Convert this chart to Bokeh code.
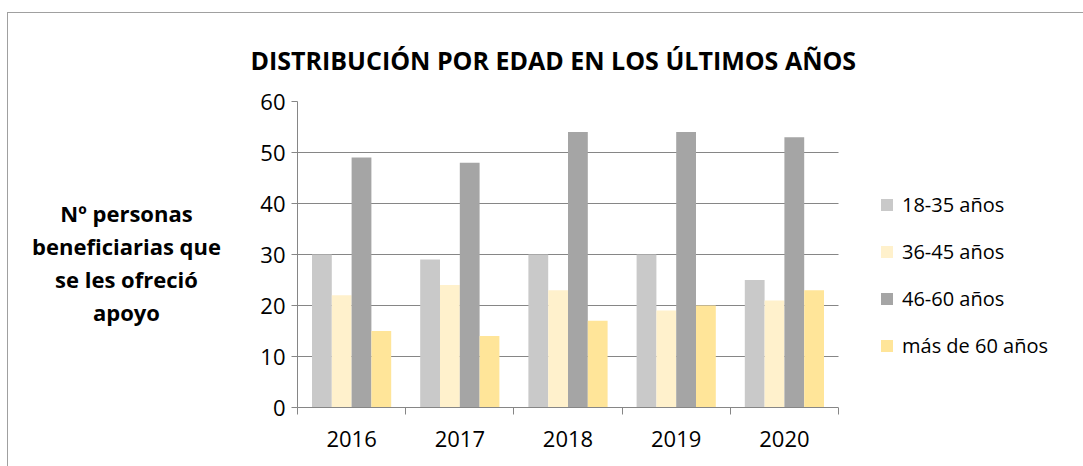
from bokeh.plotting import figure
from bokeh.layouts import row
from bokeh.models import (ColumnDataSource, Range1d, FixedTicker, Legend, LegendItem, Title,
                          BoxAnnotation)
from bokeh.core.properties import value
from bokeh.embed import file_html
from bokeh.resources import INLINE

years = ["2016", "2017", "2018", "2019", "2020"]
series = ["18-35 años", "36-45 años", "46-60 años", "más de 60 años"]
v_18_35 = [30, 29, 30, 30, 25]
v_36_45 = [22, 24, 23, 19, 21]
v_46_60 = [49, 48, 54, 54, 53]
v_60_plus = [15, 14, 17, 20, 23]
colors = ["#C9C9C9", "#FFF1CC", "#A5A5A5", "#FFE599"]
title_text = "DISTRIBUCIÓN POR EDAD EN LOS ÚLTIMOS AÑOS"
ylabel_text = "Nº personas\nbeneficiarias que\nse les ofreció\napoyo"

FONT = "Open Sans"
OX, OY = 8, 13     # offset of the content inside the outer chart border
H = 466 - OY
LW = 230 - OX      # width of the y-label panel
MW = 1083 - 230    # width of the main chart
FL = 67            # left border of main chart (frame starts at page x 297)
FRAME_W = MW - FL
PLOT_W = 541       # pixel width of the category area
n = len(years)
x_end = n * FRAME_W / PLOT_W

# ---- y-axis title panel
lab = figure(width=LW, height=H, output_backend="svg", toolbar_location=None,
             x_range=Range1d(0, LW), y_range=Range1d(H, 0),
             min_border=0)
lab.axis.visible = False
lab.grid.visible = False
lab.outline_line_color = None
lab.text(x=[126 - OX], y=[251 - OY], text=[ylabel_text], text_align="center",
         text_baseline="middle", text_font=value(FONT), text_font_size="22px",
         text_font_style="bold", text_color="#000000", text_line_height=1.1)

# ---- main chart
p = figure(width=MW, height=H, output_backend="svg", toolbar_location=None,
           x_range=Range1d(0, x_end), y_range=Range1d(0, 60),
           min_border_left=FL, min_border_right=0, min_border_top=101 - OY,
           min_border_bottom=59)
p.outline_line_color = None
p.background_fill_color = "white"
p.border_fill_color = "white"

bw = 0.183
offsets = [-1.5 * bw, -0.5 * bw, 0.5 * bw, 1.5 * bw]
items = []
for vals, col, off, name in zip([v_18_35, v_36_45, v_46_60, v_60_plus], colors, offsets, series):
    xs = [i + 0.5 + off for i in range(n)]
    src = ColumnDataSource(dict(x=xs, top=vals))
    r = p.vbar(x="x", top="top", width=bw, bottom=0, source=src, fill_color=col,
               line_color=None)
    items.append(LegendItem(label=name, renderers=[r]))

p.xaxis.bounds = (0, n)
p.xaxis.ticker = FixedTicker(ticks=[i + 0.5 for i in range(n)],
                             minor_ticks=list(range(n + 1)))
p.xaxis.major_label_overrides = {i + 0.5: y for i, y in enumerate(years)}
p.xaxis.major_tick_line_color = None
p.xaxis.minor_tick_out = 7
p.xaxis.minor_tick_in = 0
p.xaxis.minor_tick_line_color = "#868686"
p.xaxis.axis_line_color = "#868686"
p.xaxis.major_label_text_font = FONT
p.xaxis.major_label_text_font_size = "22px"
p.xaxis.major_label_text_color = "#000000"
p.xaxis.major_label_standoff = 16

p.yaxis.ticker = FixedTicker(ticks=list(range(0, 61, 10)))
p.yaxis.major_tick_out = 6
p.yaxis.major_tick_in = 0
p.yaxis.major_tick_line_color = "#868686"
p.yaxis.minor_tick_line_color = None
p.yaxis.axis_line_color = "#868686"
p.yaxis.major_label_text_font = FONT
p.yaxis.major_label_text_font_size = "22px"
p.yaxis.major_label_text_color = "#000000"
p.yaxis.major_label_standoff = 6

p.xgrid.grid_line_color = None
p.ygrid.grid_line_color = "#868686"
p.ygrid.grid_line_width = 1

# blank out the grid to the right of the category area (legend area)
p.add_layout(BoxAnnotation(left=n, fill_color="white", fill_alpha=1.0,
                           line_color=None))

legend = Legend(items=items, location=(582, 48), orientation="vertical",
                glyph_width=15, glyph_height=15, label_height=27, spacing=20,
                label_standoff=8, padding=0, margin=0,
                label_text_font=FONT, label_text_font_size="20px",
                label_text_color="#000000", border_line_color=None,
                background_fill_alpha=0)
p.add_layout(legend)

p.title = Title(text=title_text, align="left", offset=-47, text_font=FONT,
                text_font_size="25px", text_font_style="bold", text_color="#000000",
                standoff=50)

layout = row(lab, p, spacing=0, margin=(OY - 1, 0, 0, OX - 1),
             styles={"border-top": "1px solid #A0A0A0",
                     "border-left": "1px solid #A0A0A0"})
open("out.html", "w").write(file_html(layout, INLINE))
